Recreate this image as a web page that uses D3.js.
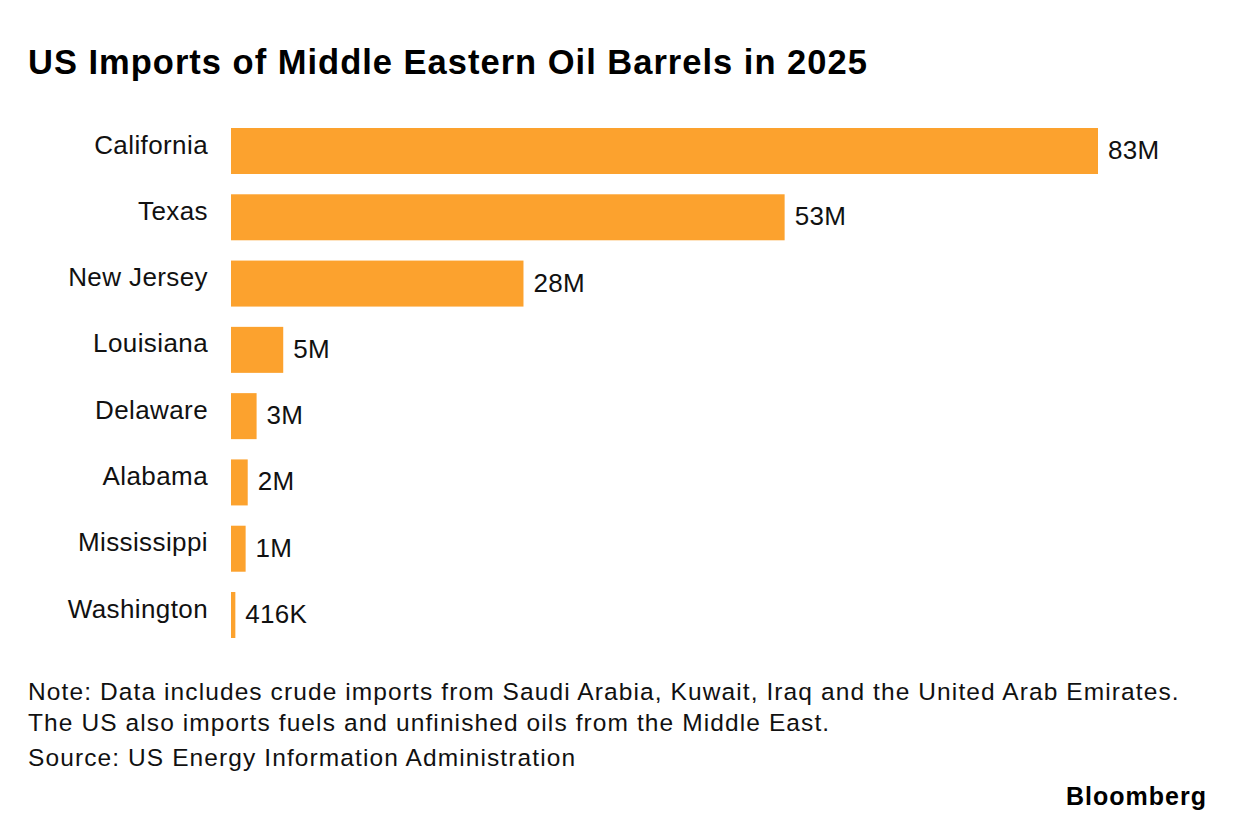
<!DOCTYPE html>
<html>
<head>
<meta charset="utf-8">
<script src="https://cdn.jsdelivr.net/npm/d3@7"></script>
<style>
  html, body { margin: 0; padding: 0; background: #fff; }
  svg { display: block; }
</style>
</head>
<body>
<svg id="chart" width="1237" height="838"></svg>
<script>
const states = ["California", "Texas", "New Jersey", "Louisiana", "Delaware", "Alabama", "Mississippi", "Washington"];
const barrelsMillions = [83, 53, 28, 5, 2.45, 1.6, 1.4, 0.416];
const valueLabels = ["83M", "53M", "28M", "5M", "3M", "2M", "1M", "416K"];

const title = "US Imports of Middle Eastern Oil Barrels in 2025";
const noteLines = [
  "Note: Data includes crude imports from Saudi Arabia, Kuwait, Iraq and the United Arab Emirates.",
  "The US also imports fuels and unfinished oils from the Middle East."
];
const sourceText = "Source: US Energy Information Administration";
const brand = "Bloomberg";

const svg = d3.select("#chart");
const font = "'Liberation Sans', Arial, Helvetica, sans-serif";
const barLeft = 231;

const x = d3.scaleLinear().domain([0, 83]).range([0, 867]);
const y = d3.scaleBand().domain(states).range([128, 638]).paddingInner(0.306).paddingOuter(0);

svg.append("text")
  .attr("x", 28).attr("y", 74)
  .attr("font-family", font).attr("font-weight", "bold")
  .attr("font-size", 34.5).attr("letter-spacing", 1.0).attr("fill", "#000")
  .text(title);

const data = states.map((s, i) => ({ state: s, value: barrelsMillions[i], label: valueLabels[i] }));

const g = svg.append("g").attr("transform", `translate(${barLeft},0)`);

g.selectAll("rect.bar").data(data).join("rect")
  .attr("class", "bar")
  .attr("x", 0)
  .attr("y", d => y(d.state))
  .attr("width", d => x(d.value))
  .attr("height", y.bandwidth())
  .attr("fill", "#fca22e");

g.selectAll("text.val").data(data).join("text")
  .attr("class", "val")
  .attr("x", d => x(d.value) + 10)
  .attr("y", d => y(d.state) + y.bandwidth() / 2 + 8)
  .attr("font-family", font).attr("font-size", 26).attr("letter-spacing", 0.3).attr("fill", "#111")
  .text(d => d.label);

const yAxis = d3.axisLeft(y).tickSize(0).tickPadding(23);
const axG = g.append("g").call(yAxis);
axG.select(".domain").remove();
axG.selectAll(".tick text")
  .attr("font-family", font).attr("font-size", 26).attr("letter-spacing", 0.4).attr("fill", "#111")
  .attr("dy", "0.1em");

svg.selectAll("text.note").data(noteLines).join("text")
  .attr("class", "note")
  .attr("x", 28).attr("y", (d, i) => 700 + i * 31)
  .attr("font-family", font).attr("font-size", 24.5).attr("letter-spacing", 1.1).attr("fill", "#111")
  .text(d => d);

svg.append("text")
  .attr("x", 28).attr("y", 766)
  .attr("font-family", font).attr("font-size", 24.5).attr("letter-spacing", 1.1).attr("fill", "#111")
  .text(sourceText);

svg.append("text")
  .attr("x", 1207).attr("y", 805)
  .attr("text-anchor", "end")
  .attr("font-family", font).attr("font-weight", "bold")
  .attr("font-size", 25).attr("letter-spacing", 1).attr("fill", "#000")
  .text(brand);
</script>
</body>
</html>
